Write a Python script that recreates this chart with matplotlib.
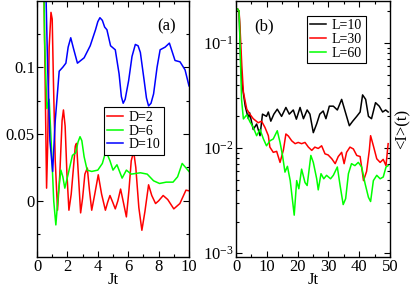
import matplotlib
matplotlib.use('Agg')
import matplotlib.pyplot as plt
from matplotlib.ticker import MultipleLocator, FuncFormatter, LogLocator, NullFormatter
import numpy as np

plt.rcParams['font.family'] = ['Liberation Serif', 'DejaVu Serif']
plt.rcParams['mathtext.fontset'] = 'stix'

# panel (a): D = 2, 6, 10
t_d2 = [0.35, 0.5, 0.63, 0.7, 0.8, 0.92, 1.0, 1.08, 1.2, 1.35, 1.5, 1.65, 1.74, 1.85, 1.97, 2.1,
        2.25, 2.4, 2.52, 2.6, 2.72, 2.87, 3.0, 3.15, 3.31, 3.45, 3.6, 3.8, 4.03, 4.25, 4.5,
        4.65, 4.8, 4.98, 5.15, 5.32, 5.5, 5.7, 5.88, 6.05, 6.2, 6.36, 6.5, 6.7, 6.9, 7.1, 7.34,
        7.55, 7.8, 8.0, 8.3, 8.6, 9.0, 9.4, 9.8, 10.0]
v_d2 = [0.25, 0.12, 0.0095, 0.04, 0.115, 0.141, 0.136, 0.09, 0.03, -0.007, 0.02, 0.06, 0.068,
        0.056, 0.02, -0.007, 0.005, 0.025, 0.041, 0.043, 0.02, -0.009, 0.002, 0.02, 0.0245,
        0.008, -0.007, 0.005, 0.0195, 0.005, -0.007, -0.001, 0.004, -0.001, -0.006, 0.0,
        0.0088, -0.002, -0.012, 0.008, 0.03, 0.037, 0.025, -0.005, -0.022, -0.008, 0.012,
        0.004, -0.002, 0.0, 0.004, 0.001, -0.006, -0.002, 0.008, 0.0075]

t_d6 = [0.35, 0.5, 0.65, 0.8, 0.95, 1.1, 1.24, 1.4, 1.57, 1.7, 1.83, 2.05, 2.33, 2.55, 2.7,
        2.83, 2.95, 3.1, 3.3, 3.6, 4.0, 4.3, 4.45, 4.58, 4.8, 5.0, 5.26, 5.6, 5.88, 6.2, 6.8,
        7.25, 7.67, 8.06, 8.5, 8.95, 9.25, 9.55, 9.85, 10.0]
v_d6 = [0.25, 0.12, 0.069, 0.076, 0.04, 0.0, -0.018, 0.005, 0.023, 0.018, 0.0095, 0.02, 0.034,
        0.036, 0.044, 0.048, 0.045, 0.033, 0.023, 0.022, 0.023, 0.028, 0.034, 0.036, 0.03,
        0.023, 0.027, 0.017, 0.023, 0.02, 0.021, 0.02, 0.015, 0.013, 0.014, 0.014, 0.018,
        0.028, 0.024, 0.022]

t_d10 = [0.35, 0.5, 0.7, 0.85, 1.03, 1.2, 1.46, 1.7, 1.9, 2.05, 2.22, 2.4, 2.66, 3.1, 3.5,
         3.85, 4.0, 4.14, 4.3, 4.45, 4.6, 4.84, 5.15, 5.4, 5.55, 5.67, 5.8, 6.03, 6.25, 6.47,
         6.65, 6.8, 7.05, 7.2, 7.34, 7.5, 7.67, 7.9, 8.1, 8.43, 8.71, 9.08, 9.41, 9.74, 10.0]
v_d10 = [0.25, 0.2, 0.1, 0.045, 0.022, 0.06, 0.097, 0.1, 0.103, 0.115, 0.122, 0.114, 0.103,
         0.107, 0.116, 0.128, 0.134, 0.137, 0.135, 0.13, 0.128, 0.116, 0.113, 0.095, 0.078,
         0.073, 0.076, 0.09, 0.108, 0.117, 0.116, 0.111, 0.09, 0.077, 0.071, 0.073, 0.08,
         0.1, 0.113, 0.115, 0.118, 0.105, 0.104, 0.098, 0.086]

# panel (b): L = 10, 30, 60
t_l10 = [0.5, 1.0, 1.5, 2.0, 3.0, 4.0, 4.4, 5.6, 6.7, 7.8, 8.6, 9.9, 10.5, 11.3, 12.3, 13.4,
         14.8, 16.2, 17.3, 18.6, 19.6, 20.8, 21.9, 23.1, 24.0, 25.1, 26.2, 27.2, 28.3, 29.2,
         30.3, 31.6, 32.9, 34.3, 35.4, 36.8, 37.9, 39.2, 40.3, 41.1, 42.1, 43.0, 44.0, 45.3,
         46.5, 47.6, 48.6, 49.4]
v_l10 = [0.21, 0.2, 0.07, 0.04, 0.025, 0.019, 0.0217, 0.015, 0.0169, 0.0131, 0.021, 0.02,
         0.022, 0.018, 0.021, 0.0234, 0.02, 0.0243, 0.021, 0.023, 0.0188, 0.0243, 0.019, 0.023,
         0.021, 0.014, 0.017, 0.021, 0.0225, 0.019, 0.025, 0.025, 0.023, 0.029, 0.0225, 0.0163,
         0.018, 0.02, 0.022, 0.032, 0.029, 0.02, 0.019, 0.027, 0.025, 0.022, 0.023, 0.022]

t_l30 = [0.5, 1.0, 1.3, 1.9, 2.4, 3.5, 4.5, 5.6, 7.2, 8.3, 9.4, 10.5, 11.0, 12.1, 13.2, 14.3,
         15.4, 16.2, 17.0, 18.1, 19.2, 20.2, 21.3, 22.4, 23.5, 24.6, 25.6, 26.7, 27.8, 28.9,
         29.9, 31.1, 32.2, 33.2, 34.3, 35.1, 35.9, 37.0, 38.1, 39.2, 40.3, 41.4, 42.4, 43.3,
         43.7, 44.6, 45.7, 46.8, 47.8, 48.7, 49.4]
v_l30 = [0.21, 0.2, 0.14, 0.06, 0.034, 0.0234, 0.021, 0.019, 0.0174, 0.018, 0.0157, 0.0131,
         0.0102, 0.0091, 0.0093, 0.0073, 0.0096, 0.0136, 0.013, 0.0117, 0.011, 0.0113, 0.011,
         0.0113, 0.0102, 0.0095, 0.0102, 0.0099, 0.0105, 0.0088, 0.0086, 0.0079, 0.0071, 0.0083,
         0.0091, 0.0071, 0.0091, 0.0102, 0.0098, 0.0085, 0.0083, 0.0049, 0.006, 0.0096, 0.0131,
         0.0105, 0.0079, 0.0073, 0.0078, 0.0068, 0.011]

t_l60 = [0.5, 1.0, 1.5, 1.8, 2.4, 3.5, 4.5, 5.6, 6.7, 7.8, 8.9, 9.9, 11.0, 12.1, 13.4, 14.3,
         15.1, 15.9, 16.7, 17.6, 18.9, 19.7, 20.4, 21.3, 22.4, 23.1, 24.3, 25.1, 26.2, 26.7,
         27.6, 28.5, 29.4, 30.7, 31.6, 32.9, 33.8, 34.8, 35.6, 36.5, 37.5, 38.6, 39.7, 40.8,
         41.9, 43.0, 43.7, 44.6, 45.7, 46.8, 47.8, 48.7, 49.4]
v_l60 = [0.21, 0.2, 0.06, 0.029, 0.0189, 0.0207, 0.0178, 0.0157, 0.0131, 0.015, 0.0122, 0.0105,
         0.0117, 0.0122, 0.0146, 0.0113, 0.0085, 0.0059, 0.0067, 0.0049, 0.0023, 0.0049, 0.0041,
         0.0063, 0.0047, 0.0044, 0.0085, 0.0073, 0.0051, 0.004, 0.0057, 0.0051, 0.0055, 0.0051,
         0.0055, 0.0066, 0.0044, 0.0029, 0.0033, 0.0057, 0.0071, 0.0068, 0.0073, 0.0066, 0.0046,
         0.0034, 0.0031, 0.0049, 0.0055, 0.0051, 0.0053, 0.0066, 0.0068]

fig = plt.figure(figsize=(4.11, 2.89), dpi=100)
ax1 = fig.add_axes([37/411, 32/289, 152/411, 256/289])
ax2 = fig.add_axes([236/411, 32/289, 154/411, 256/289])

lw = 1.1
ax1.plot(t_d2, v_d2, color='#ff0000', lw=lw, label='D=2')
ax1.plot(t_d6, v_d6, color='#00ff00', lw=lw, label='D=6')
ax1.plot(t_d10, v_d10, color='#0000ff', lw=lw, label='D=10')
ax1.set_xlim(0, 10)
ax1.set_ylim(-0.042, 0.1495)
ax1.xaxis.set_major_locator(MultipleLocator(2))
ax1.xaxis.set_minor_locator(MultipleLocator(1))
ax1.yaxis.set_major_locator(MultipleLocator(0.05))
ax1.yaxis.set_minor_locator(MultipleLocator(0.025))
ax1.yaxis.set_major_formatter(FuncFormatter(lambda v, p: '%g' % round(v, 3)))
ax1.set_xlabel('Jt', fontsize=12, labelpad=-2)
ax1.text(0.855, 0.9, '(a)', transform=ax1.transAxes, fontsize=12, ha='center', va='center')

ax2.plot(t_l10, v_l10, color='black', lw=lw, label='L=10')
ax2.plot(t_l30, v_l30, color='#ff0000', lw=lw, label='L=30')
ax2.plot(t_l60, v_l60, color='#00ff00', lw=lw, label='L=60')
ax2.set_yscale('log')
ax2.set_xlim(0, 50)
ax2.set_ylim(0.00092, 0.25)
ax2.xaxis.set_major_locator(MultipleLocator(10))
ax2.xaxis.set_minor_locator(MultipleLocator(5))
ax2.yaxis.set_minor_locator(LogLocator(base=10, subs=np.arange(2, 10)))
ax2.yaxis.set_minor_formatter(NullFormatter())
ax2.set_xlabel('Jt', fontsize=12, labelpad=-2)
ax2.yaxis.set_label_position('right')
ax2.set_ylabel('<I>(t)', fontsize=12, labelpad=3)
ax2.text(0.18, 0.9, '(b)', transform=ax2.transAxes, fontsize=12, ha='center', va='center')

leg_kw = dict(loc='upper left', borderaxespad=0, fontsize=10, frameon=True, fancybox=False,
              edgecolor='black', framealpha=1, handlelength=1.1, handletextpad=0.45,
              labelspacing=0.05, borderpad=0.25)
ax1.legend(bbox_to_anchor=(0.44, 0.584), **leg_kw).get_frame().set_linewidth(0.8)
ax2.legend(bbox_to_anchor=(0.461, 0.942), **leg_kw).get_frame().set_linewidth(0.8)

for ax in (ax1, ax2):
    ax.tick_params(which='both', direction='in', top=True, right=True, labelsize=12, pad=1.5)
    ax.tick_params(which='major', length=4, width=0.8)
    ax.tick_params(which='minor', length=2.5, width=0.8)
    for s in ax.spines.values():
        s.set_linewidth(1.0)

fig.savefig('out.png', dpi=100)
